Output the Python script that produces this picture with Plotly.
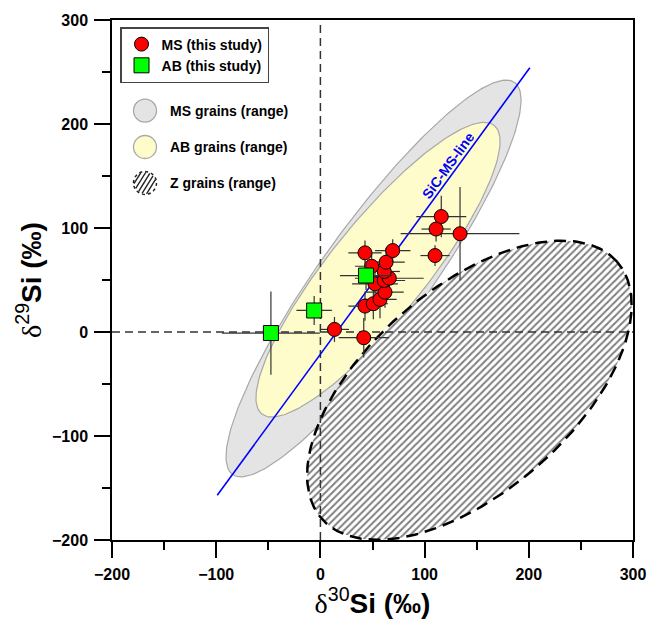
import numpy as np
import plotly.graph_objects as go

# ---- data ----
ms_x = [13.5, 41.6, 42.8, 50.8, 57.2, 62.0, 52.4, 61.3, 66.1, 61.3, 49.2, 63.0, 42.8, 69.4, 110.0, 111.0, 116.0, 134.0]
ms_y = [2.5, -5.5, 24.9, 27.2, 31.3, 38.3, 46.3, 49.5, 51.7, 58.2, 63.2, 67.1, 76.1, 78.3, 73.5, 99.0, 111.0, 94.5]
ms_xerr = [14, 24, 16, 14, 16, 18, 22, 20, 33, 15, 16, 18, 16, 17, 14, 14, 24, 57]
ms_yerr = [12, 19, 14, 15, 18, 15, 12, 14, 12, 14, 12, 14, 12, 11, 10, 12, 20, 45]

ab_x = [-47.5, -6.0, 43.8]
ab_y = [-1.0, 20.7, 54.3]
ab_xerr = [47, 17, 25]
ab_yerr = [40, 14, 14]

sic_x = [-99, 201]
sic_y = [-157, 254]

# range ellipses: centre, semi-axes, rotation (deg)
ms_range_center = [51.0, 51.5]
ms_range_axes = [232.0, 51.0]
ms_range_angle = 54.3

ab_range_center = [55.3, 59.9]
ab_range_axes = [178.0, 46.0]
ab_range_angle = 51.2

z_range_center = [143.0, -56.0]
z_range_axes = [188.0, 98.0]
z_range_angle = 41.0

x_ticks = [-200, -100, 0, 100, 200, 300]
y_ticks = [-200, -100, 0, 100, 200, 300]

range_labels = ["MS grains (range)", "AB grains (range)", "Z grains (range)"]
range_fills = ["#E4E4E4", "#FFFCCC", "white"]

FONT = "Liberation Sans, Arial, sans-serif"
W, H = 651, 628
ML, MR, MT, MB = 112, 18, 20, 88
PW, PH = W - ML - MR, H - MT - MB


def ellipse(center, axes, angle, n=240):
    t = np.linspace(0, 2 * np.pi, n)
    th = np.deg2rad(angle)
    a, b = axes
    x = center[0] + a * np.cos(t) * np.cos(th) - b * np.sin(t) * np.sin(th)
    y = center[1] + a * np.cos(t) * np.sin(th) + b * np.sin(t) * np.cos(th)
    return x, y


def px2paper(px, py):
    return (px - ML) / PW, (H - MB - py) / PH


fig = go.Figure()

ex, ey = ellipse(ms_range_center, ms_range_axes, ms_range_angle)
fig.add_trace(go.Scatter(x=ex, y=ey, mode="lines", fill="toself",
                         fillcolor=range_fills[0], line=dict(color="#A8A8A8", width=1.2),
                         showlegend=False, hoverinfo="skip"))
ex, ey = ellipse(ab_range_center, ab_range_axes, ab_range_angle)
fig.add_trace(go.Scatter(x=ex, y=ey, mode="lines", fill="toself",
                         fillcolor=range_fills[1], line=dict(color="#A8A8A8", width=1.2),
                         showlegend=False, hoverinfo="skip"))
ex, ey = ellipse(z_range_center, z_range_axes, z_range_angle)
fig.add_trace(go.Scatter(x=ex, y=ey, mode="lines", fill="toself",
                         fillcolor="white",
                         fillpattern=dict(shape="/", fgcolor="black", bgcolor="white",
                                          size=5, solidity=0.4),
                         line=dict(color="black", width=2.5, dash="12px,7px"),
                         showlegend=False, hoverinfo="skip"))

# dashed reference lines at 0
fig.add_trace(go.Scatter(x=[0, 0], y=[y_ticks[0], y_ticks[-1]], mode="lines",
                         line=dict(color="#333333", width=1.5, dash="8px,5px"),
                         showlegend=False, hoverinfo="skip"))
fig.add_trace(go.Scatter(x=[x_ticks[0], x_ticks[-1]], y=[0, 0], mode="lines",
                         line=dict(color="#333333", width=1.5, dash="8px,5px"),
                         showlegend=False, hoverinfo="skip"))

# SiC MS line
fig.add_trace(go.Scatter(x=sic_x, y=sic_y, mode="lines",
                         line=dict(color="#0000FF", width=1.6),
                         showlegend=False, hoverinfo="skip"))

fig.add_trace(go.Scatter(x=ms_x, y=ms_y, mode="markers", name="MS (this study)",
                         marker=dict(symbol="circle", size=14, color="#FF0000",
                                     line=dict(color="black", width=1)),
                         error_x=dict(type="data", array=ms_xerr, color="#333333",
                                      thickness=1.2, width=0),
                         error_y=dict(type="data", array=ms_yerr, color="#333333",
                                      thickness=1.2, width=0),
                         legend="legend"))
fig.add_trace(go.Scatter(x=ab_x, y=ab_y, mode="markers", name="AB (this study)",
                         marker=dict(symbol="square", size=15, color="#00FF00",
                                     line=dict(color="black", width=1)),
                         error_x=dict(type="data", array=ab_xerr, color="#333333",
                                      thickness=1.2, width=0),
                         error_y=dict(type="data", array=ab_yerr, color="#333333",
                                      thickness=1.2, width=0),
                         legend="legend"))

fig.add_annotation(x=122, y=160, text="<b>SiC-MS-line</b>", showarrow=False,
                   textangle=-54, font=dict(family=FONT, size=14, color="#0000FF"))

# ---- second (unboxed) key for the range regions ----
shapes = []
icon_cx = 145
icon_cy = [110.7, 147.0, 183.0]
icon_r = 11.5
for i, lab in enumerate(range_labels):
    cy = icon_cy[i]
    x0, y0 = px2paper(icon_cx - icon_r, cy + icon_r)
    x1, y1 = px2paper(icon_cx + icon_r, cy - icon_r)
    if i < 2:
        shapes.append(dict(type="circle", xref="paper", yref="paper", x0=x0, y0=y0, x1=x1, y1=y1,
                           fillcolor=range_fills[i], line=dict(color="#A8A8A8", width=1.3),
                           layer="above"))
    else:
        # hatch lines inside the circle
        ang = np.deg2rad(58)
        ux, uy = np.cos(ang), -np.sin(ang)
        nx, ny = -uy, ux
        for d in np.arange(-icon_r + 2.5, icon_r - 1.0, 4.0):
            h = np.sqrt(max(icon_r ** 2 - d ** 2, 0)) - 0.8
            ax_, ay_ = px2paper(icon_cx + d * nx - h * ux, cy + d * ny - h * uy)
            bx_, by_ = px2paper(icon_cx + d * nx + h * ux, cy + d * ny + h * uy)
            shapes.append(dict(type="line", xref="paper", yref="paper", x0=ax_, y0=ay_, x1=bx_, y1=by_,
                               line=dict(color="#222222", width=1.4), layer="above"))
        shapes.append(dict(type="circle", xref="paper", yref="paper", x0=x0, y0=y0, x1=x1, y1=y1,
                           fillcolor="rgba(0,0,0,0)", line=dict(color="#222222", width=1.5, dash="3px,3px"),
                           layer="above"))
    tx, ty = px2paper(168, cy)
    fig.add_annotation(x=tx, y=ty, xref="paper", yref="paper", text="<b>%s</b>" % lab,
                       showarrow=False, xanchor="left", yanchor="middle",
                       font=dict(family=FONT, size=14, color="black"))

axis_common = dict(
    showgrid=False, zeroline=False, showline=True, linecolor="black", linewidth=1.5,
    mirror=True, ticks="outside", ticklen=16, tickwidth=1.5, tickcolor="black",
    tickfont=dict(family=FONT, size=16, color="black", weight="bold"),
    minor=dict(ticks="outside", ticklen=8, tickwidth=1.5, tickcolor="black", dtick=50),
    ticklabelstandoff=3, automargin=False,
)

fig.update_xaxes(range=[x_ticks[0], x_ticks[-1]], tickvals=x_ticks, **axis_common,
                 title=dict(text='<span style="font-family:Liberation Serif;font-weight:normal">δ</span>'
                                 '<sup>30</sup><b>Si (‰)</b>',
                            font=dict(family=FONT, size=28, color="black"), standoff=10))
fig.update_yaxes(range=[y_ticks[0], y_ticks[-1]], tickvals=y_ticks, **axis_common,
                 title=dict(text='<span style="font-family:Liberation Serif;font-weight:normal">δ</span>'
                                 '<sup>29</sup><b>Si (‰)</b>',
                            font=dict(family=FONT, size=28, color="black"), standoff=2))

fig.update_layout(
    width=W, height=H,
    margin=dict(l=ML, r=MR, t=MT, b=MB),
    plot_bgcolor="white", paper_bgcolor="white",
    font=dict(family=FONT, size=14, color="black"),
    shapes=shapes,
    legend=dict(x=0.0154, y=0.9865, xanchor="left", yanchor="top",
                bordercolor="#444444", borderwidth=1.5, bgcolor="white",
                itemsizing="trace",
                font=dict(family=FONT, size=14, weight="bold"), tracegroupgap=0),
)

fig.write_html("out.html")
